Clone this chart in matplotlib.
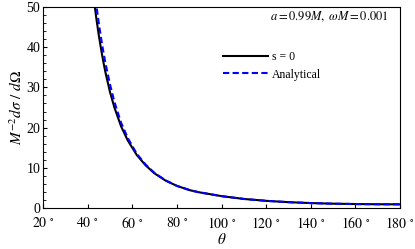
import matplotlib
matplotlib.use('Agg')
import matplotlib.pyplot as plt
import numpy as np
from matplotlib.ticker import MultipleLocator

plt.rcParams['font.family'] = 'serif'
plt.rcParams['font.serif'] = ['Liberation Serif', 'DejaVu Serif']
plt.rcParams['mathtext.fontset'] = 'stix'

# scattering angle (degrees) and cross sections
theta = [42, 43, 44, 45, 46, 47, 48, 50, 52, 55, 58, 62, 66, 70, 75, 80, 86, 90,
         100, 110, 120, 130, 140, 150, 160, 170, 180]
s0 = [56, 51, 46.8, 43, 39.6, 36.5, 33.7, 28.9, 25, 20.3, 16.8, 13.2, 10.6, 8.6,
      6.8, 5.5, 4.4, 3.9, 2.95, 2.25, 1.78, 1.45, 1.22, 1.07, 0.98, 0.93, 0.91]
analytical = [60, 54.5, 50, 46, 42.3, 39, 36, 30.8, 26.4, 21.2, 17.4, 13.5, 10.8,
              8.7, 6.85, 5.5, 4.4, 3.9, 2.95, 2.25, 1.78, 1.45, 1.22, 1.07, 0.98,
              0.93, 0.91]

xticks = [20, 40, 60, 80, 100, 120, 140, 160, 180]
yticks = [0, 10, 20, 30, 40, 50]

fig = plt.figure(figsize=(4.15, 2.49), dpi=100)
ax = fig.add_axes([0.1036, 0.1647, 0.8603, 0.8072])

ax.plot(theta, s0, color='black', lw=1.5, label='s = 0')
ax.plot(theta, analytical, color='blue', lw=1.5, ls=(0, (3, 1.6)), label='Analytical')

ax.set_xlim(20, 180)
ax.set_ylim(0, 50)
ax.set_xticks(xticks)
ax.set_xticklabels([r'$%d\ ^{\circ}$' % t for t in xticks])
ax.set_yticks(yticks)
ax.yaxis.set_minor_locator(MultipleLocator(2))
ax.tick_params(which='both', direction='in', top=False, right=False, labelsize=10)
ax.tick_params(axis='x', pad=5.5)
ax.tick_params(axis='y', pad=2)
ax.tick_params(which='major', length=3, width=0.8)
ax.tick_params(which='minor', length=1.8, width=0.6)
ax.tick_params(axis='x', which='minor', bottom=False)

ax.set_xlabel(r'$\theta$', fontsize=11, labelpad=1)
ax.set_ylabel(r'$M^{-2}d\sigma\ /\ d\Omega$', fontsize=11, labelpad=1)

ax.text(0.969, 0.95, r'$a = 0.99M,\ \omega M = 0.001$', transform=ax.transAxes,
        ha='right', va='center', fontsize=9)

ax.legend(loc='upper left', bbox_to_anchor=(0.504, 0.78), frameon=False, fontsize=8.5,
          handlelength=3.8, handletextpad=0.35, labelspacing=0.45,
          borderpad=0, borderaxespad=0)

fig.savefig('out.png', dpi=100)
